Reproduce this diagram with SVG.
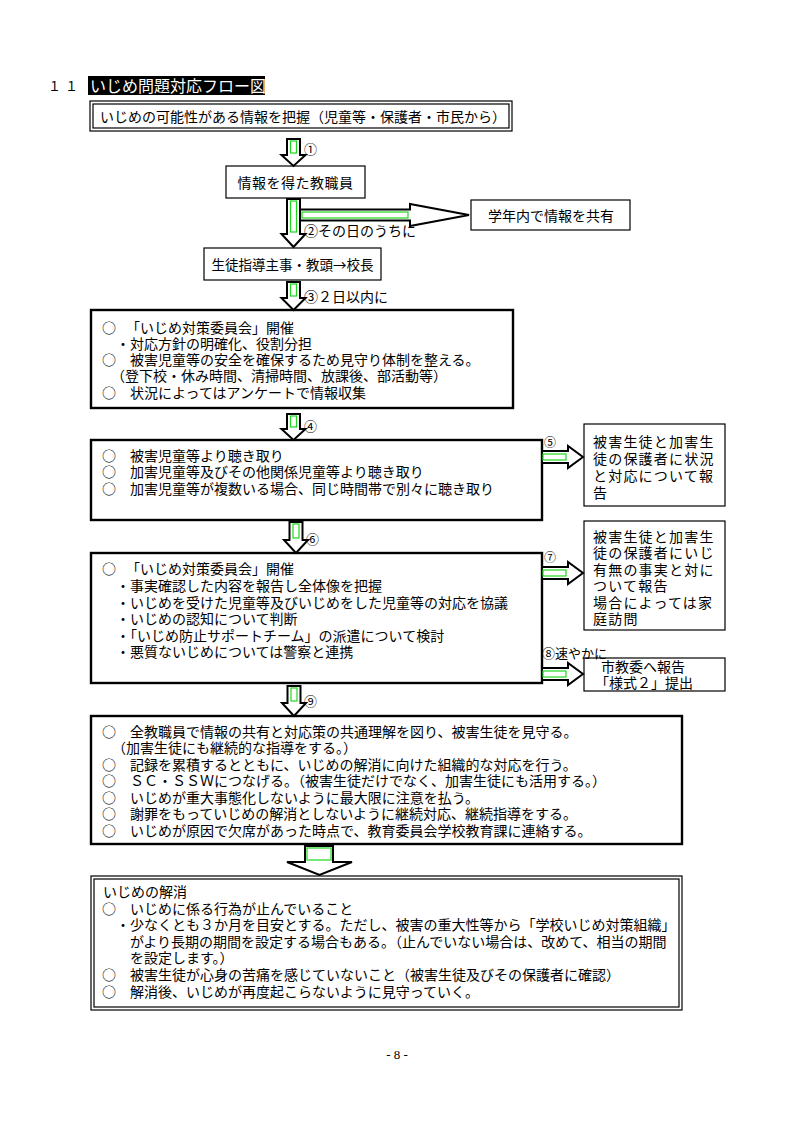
<svg xmlns="http://www.w3.org/2000/svg" width="794" height="1123" viewBox="0 0 794 1123">
<style>
text{font-family:"Noto Sans CJK JP","Noto Sans CJK SC",sans-serif;fill:#000;font-size:14px}
.box{fill:#fff;stroke:#000;stroke-width:1.2}
.thick{fill:#fff;stroke:#000;stroke-width:2.4}
.arr{fill:#fff;stroke:#000;stroke-width:2}
.grn{fill:none;stroke:#1ed81e;stroke-width:1.2}
.sm{font-size:13px}
.side{font-size:14px;letter-spacing:1.2px}
.mid{text-anchor:middle}
</style>
<rect width="794" height="1123" fill="#fff"/>
<g id="title">
<text x="48" y="91" style="font-size:13px;letter-spacing:4px">１１</text>
<rect x="88" y="76" width="177" height="19" fill="#000"/>
<text x="90" y="92" style="font-size:16px;fill:#fff">いじめ問題対応フロー図</text>
</g>
<g id="n1">
<rect class="box" x="90" y="101" width="422" height="30"/>
<rect class="box" x="93" y="104" width="416" height="24"/>
<text x="100" y="122">いじめの可能性がある情報を把握（児童等・保護者・市民から）</text>
</g>
<g id="n2">
<rect class="box" x="226" y="166" width="139" height="32"/>
<text x="295.5" y="188" class="mid" style="letter-spacing:0.5px">情報を得た教職員</text>
</g>
<g id="n3">
<rect class="box" x="471" y="200" width="159" height="30"/>
<text x="551" y="221" class="mid">学年内で情報を共有</text>
</g>
<g id="n4">
<rect class="box" x="204" y="248" width="177" height="32"/>
<text x="292.5" y="270" class="mid" style="font-size:13.5px">生徒指導主事・教頭→校長</text>
</g>
<g id="n5">
<rect class="thick" x="91" y="310" width="422" height="98"/>
<text x="102" y="333">○<tspan x="126">「いじめ対策委員会」開催</tspan></text>
<text x="116" y="349">・対応方針の明確化、役割分担</text>
<text x="102" y="365">○<tspan x="130">被害児童等の安全を確保するため見守り体制を整える。</tspan></text>
<text x="111" y="381">（登下校・休み時間、清掃時間、放課後、部活動等）</text>
<text x="102" y="398">○<tspan x="130">状況によってはアンケートで情報収集</tspan></text>
</g>
<g id="n6">
<rect class="thick" x="91" y="440" width="451" height="80"/>
<text x="102" y="461">○<tspan x="130">被害児童等より聴き取り</tspan></text>
<text x="102" y="477">○<tspan x="130">加害児童等及びその他関係児童等より聴き取り</tspan></text>
<text x="102" y="494">○<tspan x="130">加害児童等が複数いる場合、同じ時間帯で別々に聴き取り</tspan></text>
</g>
<g id="n7">
<rect class="box" x="584" y="424" width="141" height="82"/>
<text x="593" y="447" class="side">被害生徒と加害生</text>
<text x="593" y="464" class="side">徒の保護者に状況</text>
<text x="593" y="481" class="side">と対応について報</text>
<text x="593" y="498" class="side">告</text>
</g>
<g id="n8">
<rect class="thick" x="91" y="553" width="451" height="130"/>
<text x="102" y="574">○<tspan x="126">「いじめ対策委員会」開催</tspan></text>
<text x="116" y="591">・事実確認した内容を報告し全体像を把握</text>
<text x="116" y="608">・いじめを受けた児童等及びいじめをした児童等の対応を協議</text>
<text x="116" y="624">・いじめの認知について判断</text>
<text x="116" y="641">・「いじめ防止サポートチーム」の派遣について検討</text>
<text x="116" y="657">・悪質ないじめについては警察と連携</text>
</g>
<g id="n9">
<rect class="box" x="584" y="521" width="141" height="109"/>
<text x="593" y="542" class="side">被害生徒と加害生</text>
<text x="593" y="558" class="side">徒の保護者にいじ</text>
<text x="593" y="575" class="side">有無の事実と対に</text>
<text x="593" y="591" class="side">ついて報告</text>
<text x="593" y="608" class="side">場合によっては家</text>
<text x="593" y="624" class="side">庭訪問</text>
</g>
<g id="n10">
<rect class="box" x="584" y="658" width="141" height="33"/>
<text x="601" y="672">市教委へ報告</text>
<text x="595" y="688">「様式２」提出</text>
</g>
<g id="n11">
<rect class="thick" x="91" y="716" width="591" height="128"/>
<text x="102" y="737">○<tspan x="130">全教職員で情報の共有と対応策の共通理解を図り、被害生徒を見守る。</tspan></text>
<text x="112" y="753">（加害生徒にも継続的な指導をする。）</text>
<text x="102" y="770">○<tspan x="130">記録を累積するとともに、いじめの解消に向けた組織的な対応を行う。</tspan></text>
<text x="102" y="786">○<tspan x="130">ＳＣ・ＳＳＷにつなげる。（被害生徒だけでなく、加害生徒にも活用する。）</tspan></text>
<text x="102" y="803">○<tspan x="130">いじめが重大事態化しないように最大限に注意を払う。</tspan></text>
<text x="102" y="819">○<tspan x="130">謝罪をもっていじめの解消としないように継続対応、継続指導をする。</tspan></text>
<text x="102" y="836">○<tspan x="130">いじめが原因で欠席があった時点で、教育委員会学校教育課に連絡する。</tspan></text>
</g>
<g id="n12">
<rect class="box" x="91" y="876" width="591" height="134"/>
<rect class="box" x="94" y="879" width="585" height="128"/>
<text x="103" y="897">いじめの解消</text>
<text x="102" y="914">○<tspan x="130">いじめに係る行為が止んでいること</tspan></text>
<text x="116" y="930">・少なくとも３か月を目安とする。ただし、被害の重大性等から「学校いじめ対策組織」</text>
<text x="130" y="947">がより長期の期間を設定する場合もある。（止んでいない場合は、改めて、相当の期間</text>
<text x="130" y="963">を設定します。）</text>
<text x="102" y="980">○<tspan x="130">被害生徒が心身の苦痛を感じていないこと（被害生徒及びその保護者に確認）</tspan></text>
<text x="102" y="997">○<tspan x="130">解消後、いじめが再度起こらないように見守っていく。</tspan></text>
</g>
<g id="connectors">
<polygon class="arr" points="287,139 300,139 300,155 305.5,155 293.5,166 281.5,155 287,155"/>
<rect class="grn" x="290.5" y="141" width="6" height="12"/>
<polygon class="arr" points="300,209.5 410,209.5 410,204 469,215 410,226 410,220.5 300,220.5"/>
<rect class="grn" x="302" y="212" width="106" height="6"/>
<polygon class="arr" points="287,199 300,199 300,234 305.5,234 293.5,247 281.5,234 287,234"/>
<rect class="grn" x="290.5" y="201" width="6" height="31"/>
<polygon class="arr" points="287,282 300,282 300,298 305.5,298 293.5,310 281.5,298 287,298"/>
<rect class="grn" x="290.5" y="284" width="6" height="12"/>
<polygon class="arr" points="287,414 300,414 300,429 305.5,429 293.5,440 281.5,429 287,429"/>
<rect class="grn" x="290.5" y="416" width="6" height="11"/>
<polygon class="arr" points="289.5,522 302.5,522 302.5,540 308,540 296,553 284,540 289.5,540"/>
<rect class="grn" x="293" y="524" width="6" height="14"/>
<polygon class="arr" points="287.5,686 300.5,686 300.5,703 306,703 294,716 282,703 287.5,703"/>
<rect class="grn" x="291" y="688" width="6" height="13"/>
<polygon class="arr" points="305,846 333,846 333,862 352,862 319.5,875 287,862 305,862"/>
<rect class="grn" x="307" y="848" width="24" height="12"/>
<polygon class="arr" points="542,451 568,451 568,446 583,457 568,468 568,463 542,463"/>
<rect class="grn" x="543" y="454" width="23" height="6"/>
<polygon class="arr" points="542,567 568,567 568,562 583,573 568,584 568,579 542,579"/>
<rect class="grn" x="543" y="570" width="23" height="6"/>
<polygon class="arr" points="542,668 568,668 568,663 583,674 568,685 568,680 542,680"/>
<rect class="grn" x="543" y="671" width="23" height="6"/>
<text x="304" y="154" class="sm">①</text>
<text x="304" y="236">②その日のうちに</text>
<text x="304" y="302">③２日以内に</text>
<text x="304" y="431" class="sm">④</text>
<text x="306" y="544" class="sm">⑥</text>
<text x="304" y="706" class="sm">⑨</text>
<text x="544" y="447" style="font-size:12px">⑤</text>
<text x="544" y="562" style="font-size:12px">⑦</text>
<text x="542" y="658" class="sm">⑧速やかに</text>
</g>
<text x="397" y="1059" class="mid" style="font-family:'Liberation Serif',serif;font-size:13px">- 8 -</text>
</svg>
